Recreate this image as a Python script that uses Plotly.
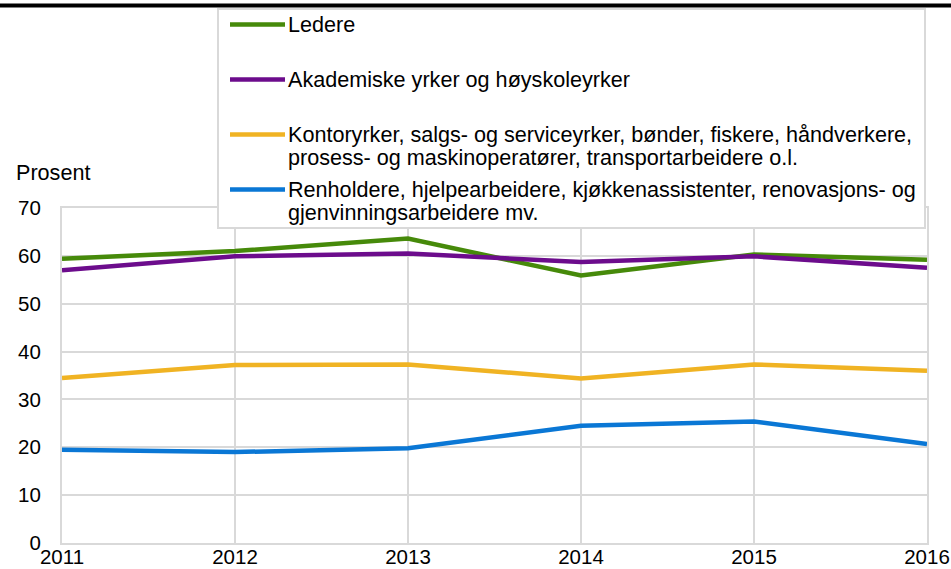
import plotly.graph_objects as go

YEARS = [2011, 2012, 2013, 2014, 2015, 2016]
LEDERE = [59.4, 61.0, 63.6, 55.9, 60.3, 59.2]
AKADEMISKE = [57.0, 59.9, 60.5, 58.7, 59.9, 57.5]
KONTOR = [34.5, 37.2, 37.3, 34.4, 37.3, 36.0]
RENHOLD = [19.5, 19.0, 19.8, 24.5, 25.4, 20.7]

# legend labels, one list entry per printed line
NAMES = [
    ["Ledere"],
    ["Akademiske yrker og høyskoleyrker"],
    ["Kontoryrker, salgs- og serviceyrker, bønder, fiskere, håndverkere,",
     "prosess- og maskinoperatører, transportarbeidere o.l."],
    ["Renholdere, hjelpearbeidere, kjøkkenassistenter, renovasjons- og",
     "gjenvinningsarbeidere mv."],
]
COLORS = ["#468a0a", "#6c0c8c", "#f0b323", "#0a77d5"]
SERIES = [LEDERE, AKADEMISKE, KONTOR, RENHOLD]

W, H = 951, 569
ML, MR, MT, MB = 62, 24, 208, 26
PW, PH = W - ML - MR, H - MT - MB
FONT = "Liberation Sans, Arial, sans-serif"
GRID = "#d9d9d9"


def px_x(x):
    return (x - ML) / PW


def px_y(y):
    return (H - MB - y) / PH


fig = go.Figure()
for name, vals, col in zip(NAMES, SERIES, COLORS):
    fig.add_trace(go.Scatter(x=YEARS, y=vals, mode="lines", name=" ".join(name),
                             line=dict(color=col, width=4.5), showlegend=False))

shapes = []
annotations = []

# black rule along the top
shapes.append(dict(type="line", xref="paper", yref="paper",
                   x0=px_x(0), x1=px_x(W), y0=px_y(5.5), y1=px_y(5.5),
                   line=dict(color="black", width=4)))

# legend box drawn by hand (swatch sits beside the first line of each label)
shapes.append(dict(type="rect", xref="paper", yref="paper", layer="above",
                   x0=px_x(218), x1=px_x(925), y0=px_y(228), y1=px_y(9),
                   fillcolor="white", line=dict(color=GRID, width=2)))

first_rows = [24.5, 79.5, 134.5, 189.5]
line_gap = 23
for lines, col, row in zip(NAMES, COLORS, first_rows):
    shapes.append(dict(type="line", xref="paper", yref="paper", layer="above",
                       x0=px_x(230), x1=px_x(285), y0=px_y(row), y1=px_y(row),
                       line=dict(color=col, width=4.5)))
    for k, txt in enumerate(lines):
        annotations.append(dict(x=px_x(286), y=px_y(row + k * line_gap),
                                xref="paper", yref="paper", text=txt,
                                showarrow=False, xanchor="left", yanchor="middle",
                                font=dict(size=21.6, color="black", family=FONT)))

annotations.append(dict(x=px_x(14), y=px_y(172), xref="paper", yref="paper",
                        text="Prosent", showarrow=False, xanchor="left", yanchor="middle",
                        font=dict(size=21.6, color="black", family=FONT)))

fig.update_layout(
    width=W, height=H,
    margin=dict(l=ML, r=MR, t=MT, b=MB, autoexpand=False),
    plot_bgcolor="white", paper_bgcolor="white",
    font=dict(family=FONT, size=20.5, color="black"),
    showlegend=False,
    shapes=shapes,
    annotations=annotations,
    xaxis=dict(range=[2011, 2016], tickvals=YEARS, showgrid=True, gridcolor=GRID,
               gridwidth=2, showline=True, linecolor=GRID, linewidth=2, mirror=True,
               zeroline=False, ticks="", tickfont=dict(size=20.5), automargin=False,
               ticklabelstandoff=-6),
    yaxis=dict(range=[0, 70], dtick=10, showgrid=True, gridcolor=GRID, gridwidth=2,
               showline=True, linecolor=GRID, linewidth=2, mirror=True,
               zeroline=False, ticks="", ticklabelstandoff=15, tickfont=dict(size=20.5),
               automargin=False),
)

fig.write_html("out.html", config={"displayModeBar": False},
               post_script="document.body.style.margin='0';")
